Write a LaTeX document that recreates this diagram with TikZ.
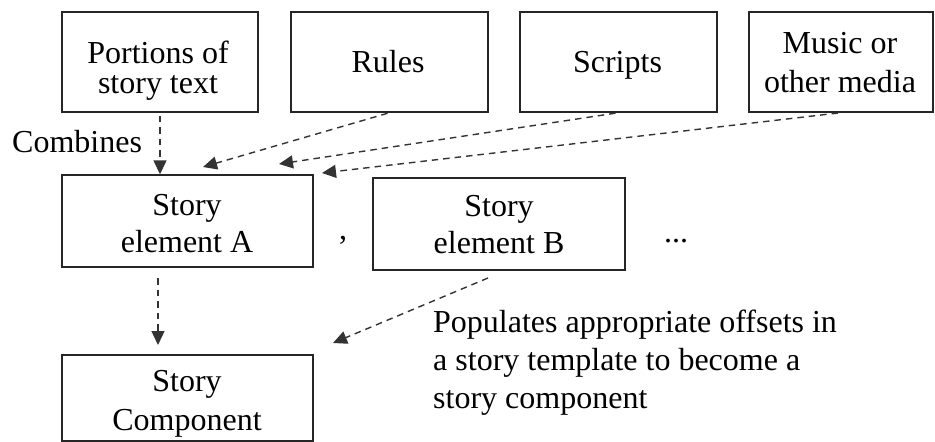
\documentclass[tikz,border=0pt]{standalone}
\usepackage{fontspec}
\setmainfont{Liberation Serif}
\usetikzlibrary{arrows.meta,calc}
\begin{document}
\begin{tikzpicture}[x=1pt,y=-1pt,
  box/.style={draw=black!85,line width=1.4pt,rectangle,inner sep=0pt},
  txt/.style={inner sep=0pt,align=center,font=\fontsize{32}{38}\selectfont},
  link/.style={draw=black!80,line width=1.4pt,dash pattern=on 6.5pt off 5pt,
    -{Triangle[length=14pt,width=13pt]}}]
\useasboundingbox (0,0) rectangle (935,442);
% boxes
\node[box,minimum width=196pt,minimum height=100pt] (por) at (160,62) {};
\node[box,minimum width=197pt,minimum height=100pt] (rul) at (389.5,62) {};
\node[box,minimum width=197pt,minimum height=100pt] (scr) at (618.5,62) {};
\node[box,minimum width=184pt,minimum height=100pt] (mus) at (841,62) {};
\node[box,minimum width=251pt,minimum height=92pt] (ea) at (187.5,221) {};
\node[box,minimum width=252pt,minimum height=92pt] (eb) at (499,224) {};
\node[box,minimum width=251pt,minimum height=86pt] (sc) at (187.5,398) {};
% box texts
\node[txt,anchor=base,font=\fontsize{32}{30}\selectfont] (port) at (158,93) {Portions of\\story text};
\node[txt,anchor=base] (rult) at (388,72) {Rules};
\node[txt,anchor=base] (scrt) at (617.5,72) {Scripts};
\node[txt,anchor=base,font=\fontsize{32}{39}\selectfont] (must) at (840,92) {Music or\\other media};
\node[txt,anchor=base,font=\fontsize{32}{37}\selectfont] (eat) at (187,252) {Story\\element A};
\node[txt,anchor=base,font=\fontsize{32}{37}\selectfont] (ebt) at (499,253) {Story\\element B};
\node[txt,anchor=base,font=\fontsize{32}{39}\selectfont] (sct) at (187,430) {Story\\Component};
% other texts
\node[txt,anchor=base] (comma) at (343,239) {,};
\node[txt,anchor=base west] (dots) at (664,242) {...};
\node[txt,anchor=base west] (comb) at (12,152) {Combines};
\node[txt,anchor=base west,align=left] (pop) at (433,408) {Populates appropriate offsets in\\a story template to become a\\story component};
% connector ends
\coordinate (t1) at (203,167);
\coordinate (t2) at (279,164);
\coordinate (t3) at (322,173);
\coordinate (s5) at (158,278);
\coordinate (e5) at (158,345);
\coordinate (s6) at (488,278);
\coordinate (e6) at (333,343);
\draw[link,shorten <=3pt] (por.south) -- (por.south |- ea.north);
\draw[link,shorten <=2pt] (rul.south) -- (t1);
\draw[link,shorten <=3pt] (scr.south) -- (t2);
\draw[link,shorten <=3pt] (mus.south) -- (t3);
\draw[link] (s5) -- (e5);
\draw[link] (s6) -- (e6);
\end{tikzpicture}
\end{document}
